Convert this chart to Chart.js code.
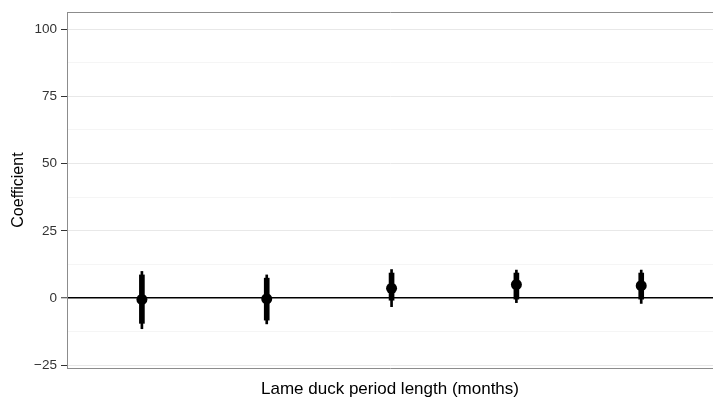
<!DOCTYPE html>
<html>
<head>
<meta charset="utf-8">
<script src="https://cdn.jsdelivr.net/npm/chart.js@4/dist/chart.umd.min.js"></script>
<style>
  html, body { margin: 0; padding: 0; background: #fff; }
  #container { width: 713px; height: 401px; }
</style>
</head>
<body>
<div id="container">
  <canvas id="coefChart"></canvas>
</div>
<script>
// one estimate per lame duck period length category
var periods = [1, 2, 3, 4, 5];
var estimates = [-0.5, -0.3, 3.6, 5.0, 4.6];
var innerLow = [-9.4, -8.2, -0.8, -0.4, -0.4];
var innerHigh = [8.6, 7.4, 9.3, 9.3, 9.3];
var outerLow = [-11.4, -9.6, -3.2, -1.7, -2.0];
var outerHigh = [9.9, 8.6, 10.6, 10.4, 10.4];

// y axis: labelled ticks and the lighter minor grid in between
var yTicks = [-25, 0, 25, 50, 75, 100];
var yMinor = [-12.5, 12.5, 37.5, 62.5, 87.5];

Chart.defaults.font.family = "'Liberation Sans', Arial, sans-serif";

function isMajor(v) {
  return yTicks.indexOf(v) !== -1;
}

var ctx = document.getElementById("coefChart").getContext("2d");
var chart = new Chart(ctx, {
  type: 'bar',
  data: {
    datasets: [
      {
        type: 'scatter',
        data: periods.map(function (p, i) { return { x: p, y: estimates[i] }; }),
        pointRadius: 5.5,
        pointBackgroundColor: '#000',
        pointBorderWidth: 0,
        order: 0
      },
      {
        // thick inner interval
        data: periods.map(function (p, i) { return { x: p, y: [innerLow[i], innerHigh[i]] }; }),
        backgroundColor: '#000',
        barThickness: 5,
        grouped: false,
        borderWidth: 0,
        order: 1
      },
      {
        // thin outer interval
        data: periods.map(function (p, i) { return { x: p, y: [outerLow[i], outerHigh[i]] }; }),
        backgroundColor: '#000',
        barThickness: 2,
        grouped: false,
        borderWidth: 0,
        order: 2
      }
    ]
  },
  options: {
    responsive: true,
    maintainAspectRatio: false,
    animation: false,
    layout: { padding: 0, autoPadding: false },
    plugins: {
      legend: { display: false },
      tooltip: { enabled: false }
    },
    scales: {
      x: {
        type: 'linear',
        position: 'bottom',
        min: 0.4,
        max: 5.575,
        offset: false,
        ticks: { display: false },
        grid: { display: true, drawOnChartArea: false, drawTicks: false },
        border: { display: true, color: '#8c8c8c', width: 1 },
        title: {
          display: true,
          text: 'Lame duck period length (months)',
          color: '#000',
          font: { size: 17 },
          padding: { top: 0, bottom: 1 }
        },
        afterFit: function (scale) { scale.height = 33; }
      },
      xTop: {
        type: 'linear',
        position: 'top',
        min: 0,
        max: 1,
        ticks: { display: false },
        grid: { display: true, drawOnChartArea: false, drawTicks: false },
        border: { display: true, color: '#8c8c8c', width: 1 },
        afterFit: function (scale) { scale.height = 11; }
      },
      y: {
        type: 'linear',
        min: -26,
        max: 106.3,
        afterBuildTicks: function (scale) {
          var vals = yTicks.concat(yMinor).sort(function (a, b) { return a - b; });
          scale.ticks = vals.map(function (v) { return { value: v }; });
        },
        ticks: {
          color: '#333',
          font: { size: 13.5 },
          padding: 4,
          callback: function (v) {
            if (!isMajor(v)) return '';
            return v < 0 ? '\u2212' + Math.abs(v) : String(v);
          }
        },
        grid: {
          color: function (c) {
            if (c.tick.value === 0) return '#000';
            return isMajor(c.tick.value) ? '#e8e8e8' : '#f5f5f5';
          },
          lineWidth: function (c) { return c.tick.value === 0 ? 1.5 : 1; },
          tickColor: function (c) { return isMajor(c.tick.value) ? '#333' : 'rgba(0,0,0,0)'; },
          tickWidth: 1,
          tickLength: 6
        },
        border: { display: true, color: '#8c8c8c', width: 1 },
        title: {
          display: true,
          text: 'Coefficient',
          color: '#000',
          font: { size: 16 },
          padding: { top: 9, bottom: 0 }
        },
        afterFit: function (scale) { scale.width = 67; }
      }
    }
  }
});
</script>
</body>
</html>
